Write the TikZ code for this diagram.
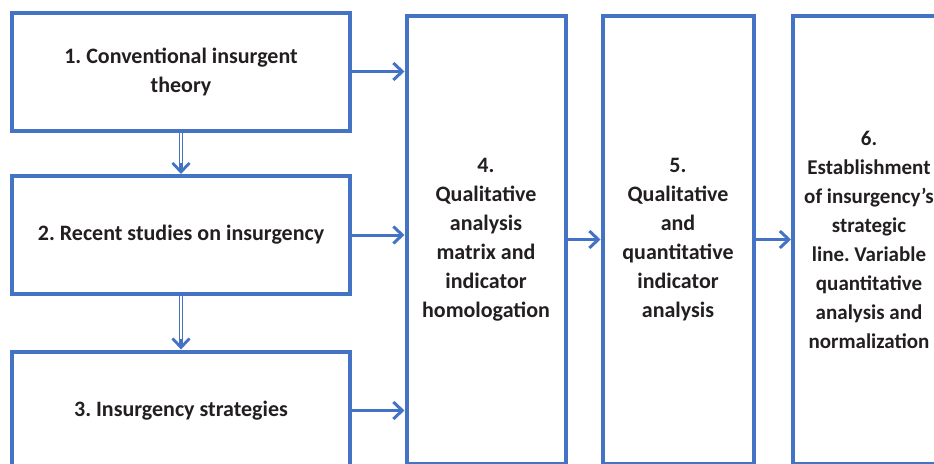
\documentclass[tikz,border=0pt]{standalone}
\usepackage{fontspec}
\setmainfont{Carlito}
\usepackage{xcolor}
\usepackage{tikz}
\usetikzlibrary{positioning,arrows.meta}
\definecolor{boxblue}{HTML}{4472C4}
\definecolor{inkdark}{HTML}{231F20}
\tikzset{
    stagebox/.style={
        draw=boxblue, fill=white, line width=4pt,
        minimum width=338pt, minimum height=118pt, inner sep=2pt,
        text=inkdark, font=\fontsize{22}{29}\selectfont\bfseries, align=center
    },
    tallbox/.style={
        stagebox, minimum height=448pt
    },
    arrow/.style={-{Straight Barb[length=9pt,width=17pt]}, line width=3pt, color=boxblue},
    dblshaft/.style={draw=boxblue, double=white, double distance=1.6pt, line width=1.6pt},
    dbltip/.style={-{Straight Barb[length=9pt,width=17pt]}, line width=2.8pt, color=boxblue},
}
\frenchspacing
\begin{document}
\begin{tikzpicture}[x=1pt, y=-1pt]
    \useasboundingbox (0,0) rectangle (934,463);
    % left column of sources
    \node[stagebox] (theory) at (181,71.5) {1. Conventional insurgent\\theory};
    \node[stagebox, below=41.5pt of theory] (studies) {2. Recent studies on insurgency};
    \node[stagebox, below=53.5pt of studies] (strategies) {3. Insurgency strategies};
    % analysis stages
    \node[tallbox, minimum width=159pt, right=52.5pt of studies, yshift=-4.5pt] (matrix)
        {4.\\Qualitative\\analysis\\matrix and\\indicator\\homologation};
    \node[tallbox, minimum width=151pt, right=33pt of matrix] (indicators)
        {5.\\Qualitative\\and\\quantitative\\indicator\\analysis};
    % last box runs past the right edge
    \node[tallbox, minimum width=152pt, inner sep=0pt, font=\fontsize{21}{29}\selectfont\bfseries,
        right=35.5pt of indicators] (strategic)
        {6.\\Establishment\\of insurgency’s\\strategic\\line. Variable\\quantitative\\analysis and\\normalization};
    % double arrows down the left column
    \draw[dblshaft] (theory.south) -- ([yshift=5pt]studies.north);
    \draw[dbltip] ([yshift=11pt]studies.north) -- (studies.north);
    \draw[dblshaft] (studies.south) -- ([yshift=5pt]strategies.north);
    \draw[dbltip] ([yshift=11pt]strategies.north) -- (strategies.north);
    % into the matrix and onwards
    \draw[arrow] (theory.east) -- (theory.east -| matrix.west);
    \draw[arrow] (studies.east) -- (studies.east -| matrix.west);
    \draw[arrow] (strategies.east) -- (strategies.east -| matrix.west);
    \draw[arrow] (matrix.east) -- (indicators.west);
    \draw[arrow] (indicators.east) -- (strategic.west);
\end{tikzpicture}
\end{document}
